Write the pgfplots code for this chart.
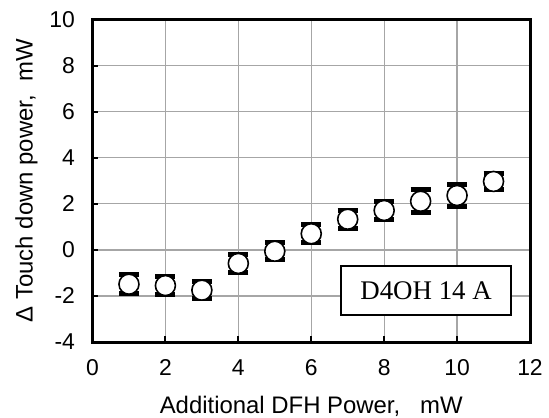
\documentclass[border=0pt]{standalone}
\usepackage{fontspec}
\setmainfont{Liberation Sans}
\newfontfamily\boxfont{Liberation Serif}
\usepackage{pgfplots}
\pgfplotsset{compat=1.18}
\usetikzlibrary{calc}
\definecolor{gridgray}{HTML}{A6A6A6}

\pgfplotstableread{
x  y      ey
1  -1.49  0.41
2  -1.55  0.39
3  -1.75  0.37
4  -0.59  0.40
5  -0.06  0.38
6   0.70  0.38
7   1.33  0.40
8   1.71  0.38
9   2.11  0.49
10  2.36  0.46
11  2.97  0.35
}\tdp

\begin{document}
\begin{tikzpicture}
\begin{axis}[
  width=437.5bp, height=322.5bp, scale only axis,
  xmin=0, xmax=12, ymin=-4, ymax=10,
  xtick={0,2,...,12}, ytick={-4,-2,...,10},
  xtick pos=bottom, ytick pos=left,
  tick align=inside,
  major tick length=6bp,
  tick style={black, line width=2bp},
  grid=major,
  major grid style={draw=gridgray, line width=1.3bp},
  axis line style={black, line width=3bp},
  /pgf/number format/assume math mode=true,
  tick label style={font=\fontsize{23}{23}\selectfont},
  yticklabel style={xshift=-14bp},
  xticklabel style={yshift=-14bp},
  label style={font=\fontsize{24}{24}\selectfont},
  xlabel={Additional DFH Power,\ \ \ mW},
  xlabel style={yshift=-14bp},
  ylabel={Δ Touch down power,\ \ mW},
  ylabel style={yshift=5bp},
  clip=false,
]
\addplot[
  only marks, mark=*, mark size=10bp,
  mark options={fill=white, draw=black, line width=1.6bp},
  error bars/.cd, y dir=both, y explicit,
  error mark=|,
  error bar style={black, line width=1.2bp},
  error mark options={black, line width=5bp, mark size=10bp}
] table[x=x, y=y, y error=ey] {\tdp};

\node[draw=black, line width=1.3bp, fill=white, inner sep=0pt,
  minimum width=170bp, minimum height=49bp,
  font=\boxfont\fontsize{27}{27}\selectfont]
  at (axis cs:9.15,-1.76) {D4OH 14 A};

\coordinate (sw) at (rel axis cs:0,0);
\coordinate (ne) at (rel axis cs:1,1);
\end{axis}
\pgfresetboundingbox
\path ($(sw)+(-92.5bp,-76bp)$) rectangle ($(ne)+(19bp,19.5bp)$);
\end{tikzpicture}
\end{document}
